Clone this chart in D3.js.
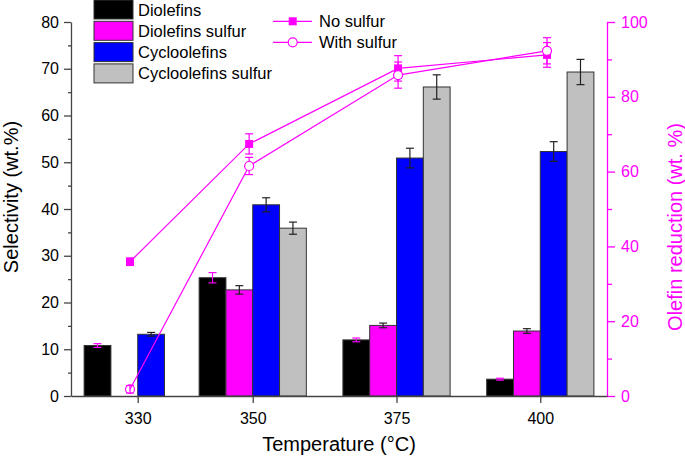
<!DOCTYPE html>
<html><head><meta charset="utf-8">
<script src="https://cdn.jsdelivr.net/npm/d3@7"></script>
<style>body{margin:0;background:#fff}svg{display:block;font-family:"Liberation Sans",Arial,Helvetica,sans-serif}</style>
</head><body><svg id="c" width="685" height="459"></svg>
<script>
const temps = [330, 350, 375, 400];
const seriesNames = ["Diolefins", "Diolefins sulfur", "Cycloolefins", "Cycloolefins sulfur"];
const diolefins = [10.8, 25.3, 12.0, 3.6];
const diolefinsErr = [0.4, 1.1, 0.4, 0.2];
const diolefinsSulfur = [null, 22.7, 15.1, 13.9];
const diolefinsSulfurErr = [null, 0.9, 0.5, 0.5];
const cycloolefins = [13.2, 40.9, 50.9, 52.3];
const cycloolefinsErr = [0.4, 1.5, 2.1, 2.1];
const cycloolefinsSulfur = [null, 35.9, 66.1, 69.3];
const cycloolefinsSulfurErr = [null, 1.3, 2.6, 2.7];
const lineNames = ["No sulfur", "With sulfur"];
const noSulfur = [35.9, 67.4, 87.6, 91.2];
const noSulfurErr = [1.0, 2.7, 3.4, 3.3];
const withSulfur = [1.8, 61.5, 85.8, 92.3];
const withSulfurErr = [1.0, 2.3, 3.5, 3.5];
const leftTicks = [0, 10, 20, 30, 40, 50, 60, 70, 80];
const rightTicks = [0, 20, 40, 60, 80, 100];

const barColors = ["#000000", "#ff00ff", "#0000ff", "#c0c0c0"];
const errColors = ["#ff00ff", "#222", "#222", "#222"];
const MAG = "#ff00ff";
const axisCol = "#444";

const svg = d3.select("#c");
const L = 71, R = 607, T = 22, B = 396;

const x = d3.scaleLinear().domain([318.4, 411.6]).range([L, R]);
const xLine = d3.scaleLinear().domain([330, 400]).range([130, 547]);
const y = d3.scaleLinear().domain([0, 80]).range([B, T]);
const y2 = d3.scaleLinear().domain([0, 100]).range([B, T]);
const barW = x(4.66) - x(0);

const barData = [
  [diolefins, diolefinsErr],
  [diolefinsSulfur, diolefinsSulfurErr],
  [cycloolefins, cycloolefinsErr],
  [cycloolefinsSulfur, cycloolefinsSulfurErr]
];

// bars
barData.forEach(([vals, errs], si) => {
  const g = svg.append("g");
  temps.forEach((t, ti) => {
    const v = vals[ti];
    if (v == null) return;
    const x0 = x(t) + (si - 2) * barW;
    g.append("rect").attr("x", x0).attr("y", y(v)).attr("width", barW).attr("height", y(0) - y(v))
      .attr("fill", barColors[si]).attr("stroke", "#333").attr("stroke-width", 1);
  });
});
// bar error bars
barData.forEach(([vals, errs], si) => {
  temps.forEach((t, ti) => {
    const v = vals[ti];
    if (v == null) return;
    const cx = x(t) + (si - 2) * barW + barW / 2;
    const e = errs[ti];
    const g = svg.append("g").attr("stroke", errColors[si]).attr("stroke-width", 1.2);
    g.append("line").attr("x1", cx).attr("x2", cx).attr("y1", y(v + e)).attr("y2", y(v - e));
    g.append("line").attr("x1", cx - 4).attr("x2", cx + 4).attr("y1", y(v + e)).attr("y2", y(v + e));
    g.append("line").attr("x1", cx - 4).attr("x2", cx + 4).attr("y1", y(v - e)).attr("y2", y(v - e));
  });
});

// axes
const fs = 16;
const gl = svg.append("g").attr("transform", `translate(${L},0)`)
  .call(d3.axisLeft(y).tickValues(leftTicks).tickSize(7).tickPadding(5).tickSizeOuter(0));
const glm = svg.append("g").attr("transform", `translate(${L},0)`)
  .call(d3.axisLeft(y).tickValues(d3.range(5, 80, 10)).tickSize(3).tickFormat("").tickSizeOuter(0));
[gl, glm].forEach(g => { g.selectAll("path,line").attr("stroke", axisCol).attr("stroke-width", 1.3); });
gl.selectAll("text").attr("font-size", fs).attr("fill", "#000").style("font-family", "Liberation Sans, Arial, sans-serif");
glm.select("path").remove();

const gr = svg.append("g").attr("transform", `translate(${R},0)`)
  .call(d3.axisRight(y2).tickValues(rightTicks).tickSize(8).tickPadding(6).tickSizeOuter(0));
const grm = svg.append("g").attr("transform", `translate(${R},0)`)
  .call(d3.axisRight(y2).tickValues(d3.range(10, 100, 20)).tickSize(5).tickFormat("").tickSizeOuter(0));
[gr, grm].forEach(g => { g.selectAll("path,line").attr("stroke", MAG).attr("stroke-width", 1.3); });
gr.selectAll("text").attr("font-size", fs).attr("fill", MAG).style("font-family", "Liberation Sans, Arial, sans-serif");
grm.select("path").remove();

const gb = svg.append("g").attr("transform", `translate(0,${B})`)
  .call(d3.axisBottom(x).tickValues(temps).tickSize(7).tickPadding(10).tickSizeOuter(0));
gb.selectAll("path,line").attr("stroke", axisCol).attr("stroke-width", 1.3);
gb.selectAll("text").attr("font-size", fs).attr("fill", "#000").style("font-family", "Liberation Sans, Arial, sans-serif");

// lines
const lineSets = [[noSulfur, noSulfurErr, "square"], [withSulfur, withSulfurErr, "circle"]];
const lineGen = d3.line().x((d, i) => xLine(temps[i])).y(d => y2(d));
lineSets.forEach(([vals]) => {
  svg.append("path").datum(vals).attr("d", lineGen).attr("fill", "none").attr("stroke", MAG).attr("stroke-width", 1.2);
});
lineSets.forEach(([vals, errs]) => {
  vals.forEach((v, i) => {
    const cx = xLine(temps[i]), e = errs[i];
    const g = svg.append("g").attr("stroke", MAG).attr("stroke-width", 1.2);
    g.append("line").attr("x1", cx).attr("x2", cx).attr("y1", y2(v + e)).attr("y2", y2(v - e));
    g.append("line").attr("x1", cx - 4).attr("x2", cx + 4).attr("y1", y2(v + e)).attr("y2", y2(v + e));
    g.append("line").attr("x1", cx - 4).attr("x2", cx + 4).attr("y1", y2(v - e)).attr("y2", y2(v - e));
  });
});
lineSets.forEach(([vals, errs, shape]) => {
  vals.forEach((v, i) => {
    const cx = xLine(temps[i]), cy = y2(v);
    if (shape === "square") {
      svg.append("rect").attr("x", cx - 4).attr("y", cy - 4).attr("width", 8).attr("height", 8).attr("fill", MAG);
    } else {
      svg.append("circle").attr("cx", cx).attr("cy", cy).attr("r", 4.5).attr("fill", i === 0 ? "none" : "#fff").attr("stroke", MAG).attr("stroke-width", 1.2);
    }
  });
});

// legend bars
const lg = svg.append("g");
seriesNames.forEach((n, i) => {
  const yy = i * 21.3;
  lg.append("rect").attr("x", 94).attr("y", yy).attr("width", 39).attr("height", 19)
    .attr("fill", barColors[i]).attr("stroke", "#333").attr("stroke-width", 1);
  lg.append("text").attr("x", 138).attr("y", yy + 15.5).attr("font-size", 16.5).attr("fill", "#000").text(n);
});
// legend lines
lineNames.forEach((n, i) => {
  const yy = 21.3 + i * 21;
  lg.append("line").attr("x1", 273).attr("x2", 312).attr("y1", yy).attr("y2", yy).attr("stroke", MAG).attr("stroke-width", 1.2);
  if (i === 0) lg.append("rect").attr("x", 288.7).attr("y", yy - 4).attr("width", 8).attr("height", 8).attr("fill", MAG);
  else lg.append("circle").attr("cx", 292.7).attr("cy", yy).attr("r", 4.5).attr("fill", "#fff").attr("stroke", MAG).attr("stroke-width", 1.2);
  lg.append("text").attr("x", 319).attr("y", yy + 5.5).attr("font-size", 16.5).attr("fill", "#000").text(n);
});

// titles
svg.append("text").attr("transform", "translate(18,197) rotate(-90)").attr("text-anchor", "middle")
  .attr("font-size", 20).attr("fill", "#000").text("Selectivity (wt.%)");
svg.append("text").attr("transform", "translate(682,227) rotate(-90)").attr("text-anchor", "middle")
  .attr("font-size", 20).attr("fill", MAG).text("Olefin reduction (wt. %)");
svg.append("text").attr("x", 339).attr("y", 451).attr("text-anchor", "middle")
  .attr("font-size", 20).attr("fill", "#000").text("Temperature (°C)");
</script></body></html>
